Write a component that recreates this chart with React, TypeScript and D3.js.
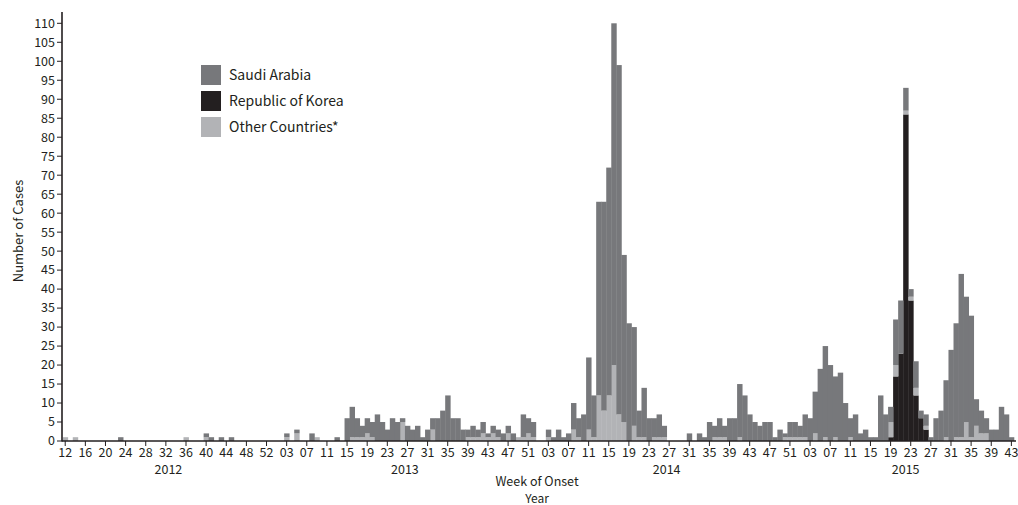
import React, { useMemo } from "react";
import * as d3 from "d3";

// ---- categories: epidemiological weeks per year ----
const YEARS = [2012, 2013, 2014, 2015];
const FIRST_WEEK = [12, 1, 1, 1];
const LAST_WEEK = [53, 52, 52, 43];

// ---- series values (cases per week of onset) ----
const saudi2012 = [0,0,0,0,0,0,0,0,0,0, 0,1,0,0,0,0,0,0,0,0, 0,0,0,0,0,0,0,0,1,1, 0,1,0,1,0,0,0,0,0,0, 0,0];
const other2012 = [1,0,1,0,0,0,0,0,0,0, 0,0,0,0,0,0,0,0,0,0, 0,0,0,0,1,0,0,0,1,0, 0,0,0,0,0,0,0,0,0,0, 0,0];

const saudi2013 = [0,0,1,0,1,0,0,2,0,0, 0,0,1,0,6,8,5,3,4,4, 7,5,3,6,5,1,4,3,4,1, 3,3,6,8,12,6,6,3,2,3, 2,3,1,2,2,2,2,2,0,6, 4,4];
const other2013 = [0,0,1,0,2,0,0,0,1,0, 0,0,0,0,0,1,1,1,2,1, 0,0,0,0,0,5,0,0,0,0, 0,3,0,0,0,0,0,0,1,1, 1,2,1,2,1,0,2,0,1,1, 2,1];

const saudi2014 = [0,0,2,1,3,1,2,7,5,7, 19,11,51,55,60,90,92,44,31,26, 7,13,6,5,6,3,0,0,0,0, 2,0,2,1,5,3,5,3,6,6, 14,12,7,5,4,5,5,1,3,1, 4,4];
const other2014 = [0,0,1,0,0,0,0,3,1,0, 3,1,12,8,12,20,7,5,0,4, 1,1,0,1,1,1,0,0,0,0, 0,0,0,0,0,1,1,1,0,0, 1,0,0,0,0,0,0,0,0,1, 1,1];

const saudi2015 = [3,6,6,11,19,24,20,16,18,10, 5,7,2,3,1,1,12,7,4,12, 14,6,2,7,2,3,1,6,8,15, 24,30,43,33,32,7,6,4,3,3, 9,7,1];
const other2015 = [1,1,0,2,0,1,0,1,0,0, 1,0,0,0,0,0,0,0,4,3, 0,1,1,2,0,1,0,0,0,1, 0,1,1,5,1,4,2,2,0,0, 0,0,0];
const korea2015 = [0,0,0,0,0,0,0,0,0,0, 0,0,0,0,0,0,0,0,1,17, 23,86,37,12,6,3,0,0,0,0, 0,0,0,0,0,0,0,0,0,0, 0,0,0];

const SAUDI = [saudi2012, saudi2013, saudi2014, saudi2015];
const OTHER = [other2012, other2013, other2014, other2015];

const Y_TICKS = [0,5,10,15,20,25,30,35,40,45,50,55,60,65,70,75,80,85,90,95,100,105,110];

const SERIES = [
  { key: "korea", label: "Republic of Korea", color: "#231f20" },
  { key: "other", label: "Other Countries*", color: "#b2b3b6" },
  { key: "saudi", label: "Saudi Arabia", color: "#77787b" },
];
const LEGEND_ORDER = ["saudi", "korea", "other"];

const FONT = "'Noto Sans CJK JP', 'Noto Sans', sans-serif";

type Row = { key: string; year: number; week: number; korea: number; other: number; saudi: number };

export default function App() {
  const rows: Row[] = useMemo(() => {
    const out: Row[] = [];
    YEARS.forEach((yr, yi) => {
      for (let w = FIRST_WEEK[yi]; w <= LAST_WEEK[yi]; w++) {
        const j = w - FIRST_WEEK[yi];
        out.push({
          key: `${yr}-${w}`,
          year: yr,
          week: w,
          saudi: SAUDI[yi][j],
          other: OTHER[yi][j],
          korea: yr === 2015 ? korea2015[j] : 0,
        });
      }
    });
    return out;
  }, []);

  const x = d3.scaleBand<string>().domain(rows.map((r) => r.key)).range([62.7, 1013.9]).padding(0);
  const y = d3.scaleLinear().domain([0, 110]).range([441, 23.3]);
  const stacked = d3.stack<Row>().keys(SERIES.map((s) => s.key))(rows);
  const bw = x.bandwidth();

  const xTicks = rows.filter((_, i) => i % 4 === 0);
  const yearCenters = YEARS.map((yr) => {
    const rs = rows.filter((r) => r.year === yr);
    const a = x(rs[0].key)!;
    const b = x(rs[rs.length - 1].key)! + bw;
    return { yr, cx: (a + b) / 2 };
  });

  const axisColor = "#231f20";

  return (
    <svg
      width={1018}
      height={505}
      style={{ position: "absolute", left: 0, top: 0, background: "#fff" }}
      fontFamily={FONT}
    >
      <rect x={0} y={0} width={1018} height={505} fill="#fff" />
      {/* bars */}
      {stacked.map((layer, li) => (
        <g key={layer.key} fill={SERIES[li].color}>
          {layer.map((d, i) =>
            d[1] - d[0] > 0 ? (
              <rect
                key={i}
                x={x(d.data.key)!}
                y={y(d[1])}
                width={bw + 0.4}
                height={y(d[0]) - y(d[1])}
              />
            ) : null
          )}
        </g>
      ))}

      {/* y axis */}
      <line x1={62} x2={62} y1={12} y2={441.5} stroke={axisColor} strokeWidth={1.6} />
      {Y_TICKS.map((t) => (
        <g key={t} transform={`translate(0,${y(t)})`}>
          <line x1={57} x2={62} stroke={axisColor} strokeWidth={1} />
          <text x={55} dy="0.35em" textAnchor="end" fontSize={12.5} fill="#231f20">
            {t}
          </text>
        </g>
      ))}

      {/* x axis */}
      <line x1={62} x2={1016} y1={441} y2={441} stroke={axisColor} strokeWidth={1.6} />
      {xTicks.map((r) => {
        const cx = x(r.key)! + bw / 2;
        return (
          <g key={r.key} transform={`translate(${cx},441)`}>
            <line y1={0} y2={5} stroke={axisColor} strokeWidth={1} />
            <text y={16} textAnchor="middle" fontSize={12.5} fill="#231f20">
              {String(r.week).padStart(2, "0")}
            </text>
          </g>
        );
      })}
      {yearCenters.map((d) => (
        <text key={d.yr} x={d.cx} y={474} textAnchor="middle" fontSize={12.5} fill="#231f20">
          {d.yr}
        </text>
      ))}
      <text x={537} y={486} textAnchor="middle" fontSize={12.5} fill="#231f20">
        Week of Onset
      </text>
      <text x={537} y={503} textAnchor="middle" fontSize={12} fill="#231f20">
        Year
      </text>
      <text
        transform="translate(23,231) rotate(-90)"
        textAnchor="middle"
        fontSize={13}
        fill="#231f20"
      >
        Number of Cases
      </text>

      {/* legend */}
      {LEGEND_ORDER.map((k, i) => {
        const s = SERIES.find((q) => q.key === k)!;
        return (
          <g key={k} transform={`translate(201,${65 + i * 26})`}>
            <rect width={20} height={20} fill={s.color} />
            <text x={28} y={15} fontSize={14} fill="#231f20">
              {s.label}
            </text>
          </g>
        );
      })}
    </svg>
  );
}
